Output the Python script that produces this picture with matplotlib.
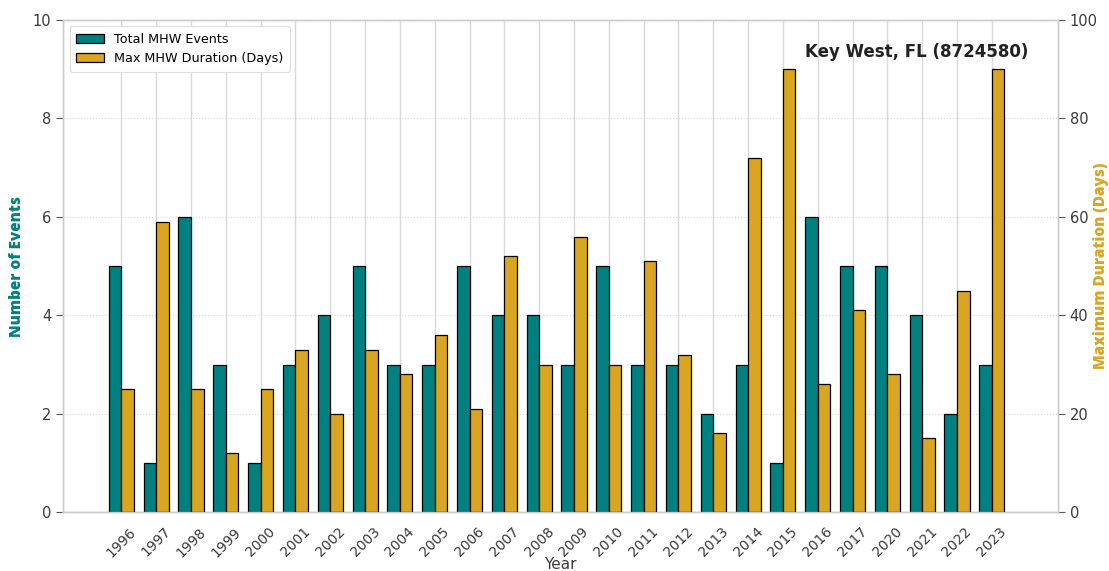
import numpy as np
import matplotlib
matplotlib.use('Agg')
import matplotlib.pyplot as plt

years = ['1996', '1997', '1998', '1999', '2000', '2001', '2002', '2003', '2004',
         '2005', '2006', '2007', '2008', '2009', '2010', '2011', '2012', '2013',
         '2014', '2015', '2016', '2017', '2020', '2021', '2022', '2023']
total_events = [5, 1, 6, 3, 1, 3, 4, 5, 3, 3, 5, 4, 4, 3, 5, 3, 3, 2, 3, 1, 6, 5, 5, 4, 2, 3]
max_duration = [25, 59, 25, 12, 25, 33, 20, 33, 28, 36, 21, 52, 30, 56, 30, 51, 32, 16,
                72, 90, 26, 41, 28, 15, 45, 90]

teal = '#008080'
gold = '#DAA520'
grid_col = '#d9d9d9'
txt_col = '#3a3a3a'

fig, ax1 = plt.subplots(figsize=(11.09, 5.71), dpi=100)
ax2 = ax1.twinx()

x = np.arange(len(years))
w = 0.36

b1 = ax1.bar(x - w / 2, total_events, w, color=teal, edgecolor='black', linewidth=0.9,
             label='Total MHW Events', zorder=3)
b2 = ax2.bar(x + w / 2, max_duration, w, color=gold, edgecolor='black', linewidth=0.9,
             label='Max MHW Duration (Days)', zorder=3)

ax1.set_xlim(-1.67, 26.9)
ax1.set_ylim(0, 10)
ax2.set_ylim(0, 100)
ax1.set_yticks([0, 2, 4, 6, 8, 10])
ax2.set_yticks([0, 20, 40, 60, 80, 100])

ax1.set_xticks(x)
ax1.set_xticklabels(years, rotation=45, fontsize=10, color=txt_col)
ax1.tick_params(axis='x', length=0, pad=9)
ax1.tick_params(axis='y', labelsize=10.5, colors=txt_col, length=5, color='#555555')
ax2.tick_params(axis='y', labelsize=10.5, colors=txt_col, length=5, color='#555555')

ax1.set_xlabel('Year', fontsize=11, color=txt_col)
ax1.xaxis.set_label_coords(0.5, -0.092)
ax1.set_ylabel('Number of Events', fontsize=11, color=teal, fontweight=900,
               family='Open Sans')
ax1.yaxis.set_label_coords(-0.038, 0.5)
ax2.set_ylabel('Maximum Duration (Days)', fontsize=11, color=gold, fontweight=900,
               family='Open Sans')
ax2.yaxis.set_label_coords(1.035, 0.5)

# vertical grid solid, horizontal dotted, both under the bars
ax1.set_axisbelow(True)
ax1.grid(axis='x', color=grid_col, linewidth=1.0, linestyle='-')
ax1.grid(axis='y', color=grid_col, linewidth=0.8, linestyle=':')

for ax in (ax1, ax2):
    for s in ax.spines.values():
        s.set_color('#cccccc')
        s.set_linewidth(1.0)

ax2.text(0.97, 0.935, 'Key West, FL (8724580)', transform=ax2.transAxes,
         ha='right', va='center', fontsize=12, fontweight='bold', color='#222222')

leg = ax2.legend([b1, b2], ['Total MHW Events', 'Max MHW Duration (Days)'],
                 loc='upper left', fontsize=9.2, frameon=True, framealpha=1,
                 edgecolor='#dddddd', borderpad=0.5, handlelength=2.2)
leg.get_frame().set_linewidth(0.8)

plt.subplots_adjust(left=0.057, right=0.954, top=0.965, bottom=0.103)
fig.savefig('out.png', dpi=100)
